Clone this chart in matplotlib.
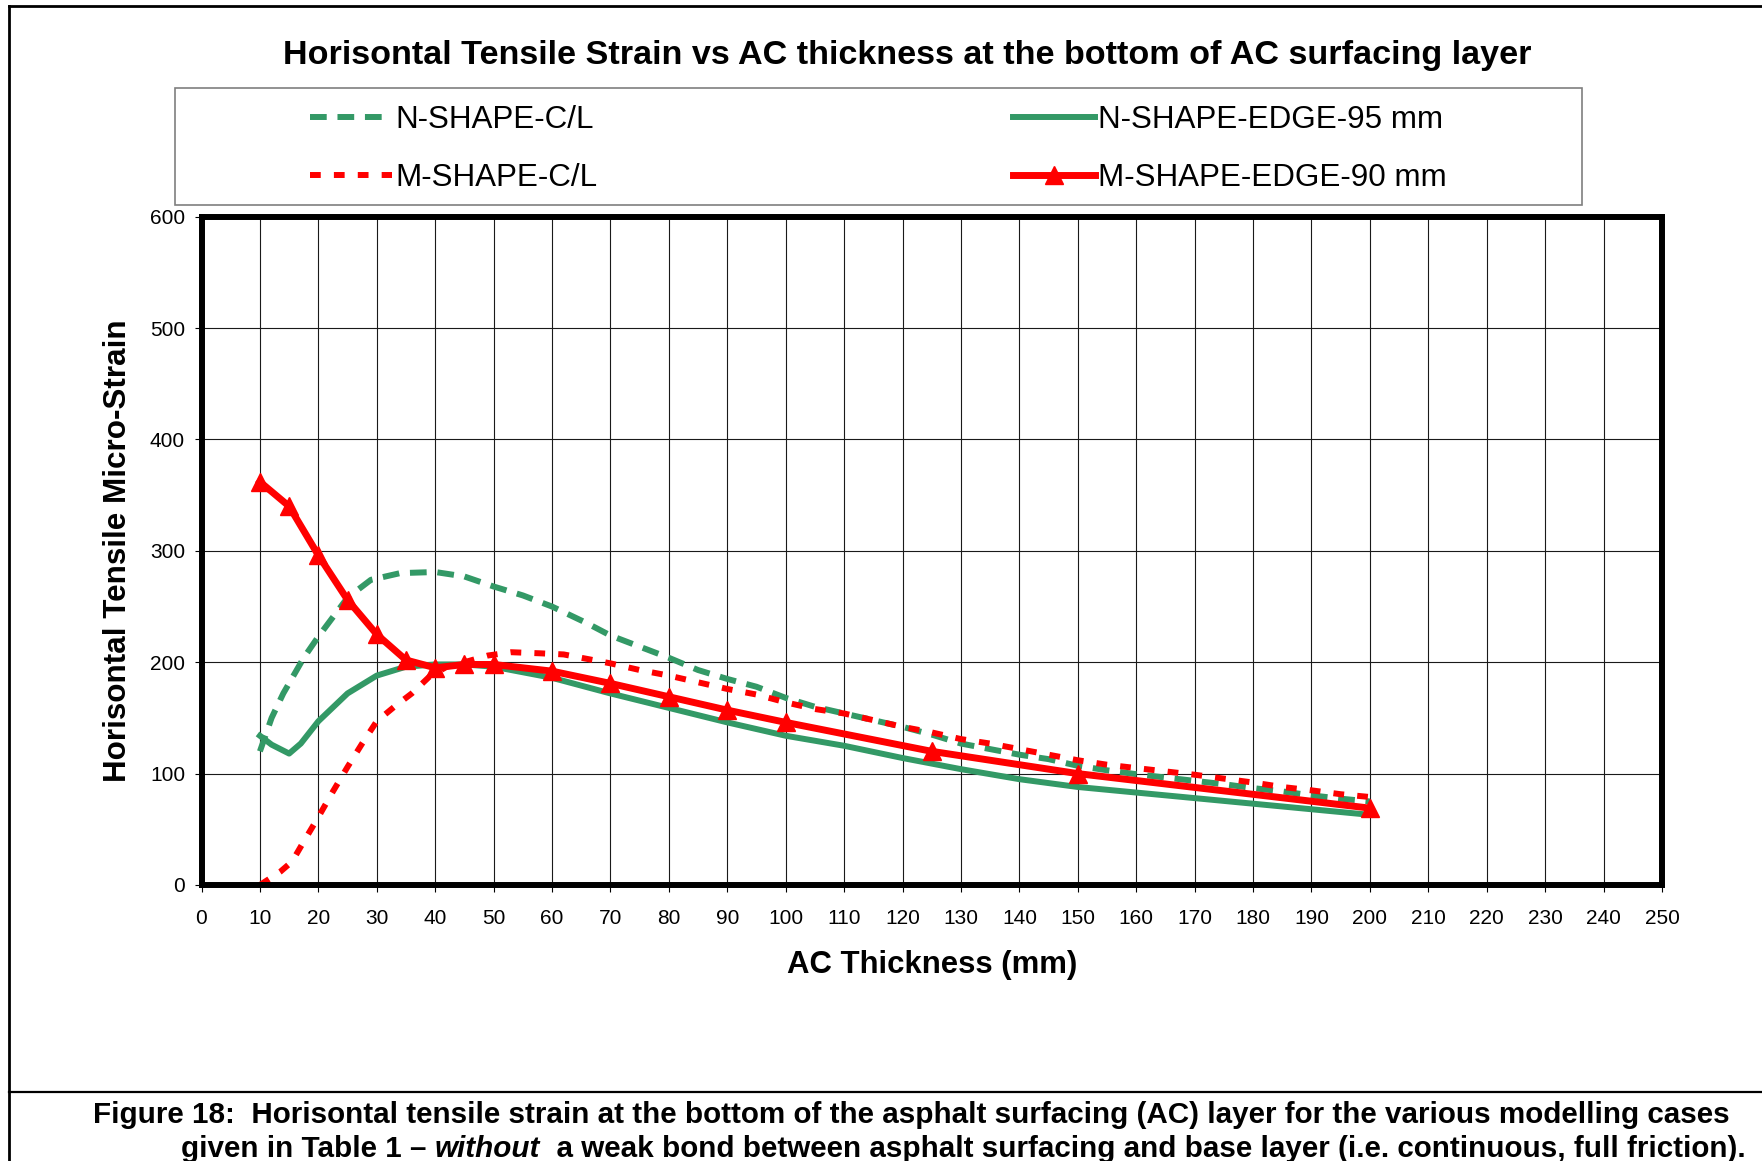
import matplotlib
matplotlib.use("Agg")
import matplotlib.pyplot as plt
from matplotlib.lines import Line2D
from matplotlib.patches import Rectangle

plt.rcParams['font.family'] = ['Liberation Sans', 'DejaVu Sans']

# data (AC thickness in mm, micro-strain)
n_cl_x = [10, 12, 14, 17.5, 20, 23, 25, 29, 34, 40, 45, 50, 55, 60, 66, 70, 75, 80, 85, 90,
          95, 100, 105, 110, 115, 120, 125, 130, 135, 140, 145, 150, 155, 160, 165, 170,
          175, 180, 185, 190, 195, 200]
n_cl_y = [120, 150, 172, 204, 223, 244, 258, 274, 280, 281, 277, 268, 260, 250, 235, 224,
          214, 204, 193, 185, 178, 168, 160, 154, 148, 142, 135, 127, 122, 117, 113, 107,
          103, 99.5, 96.5, 93.5, 90.5, 87, 84, 80.5, 77.5, 75]

n_edge_x = [10, 12, 15, 17, 20, 25, 30, 35, 40, 45, 50, 60, 70, 80, 90, 100, 110, 120,
            130, 140, 150, 160, 170, 180, 190, 200]
n_edge_y = [134, 126, 118, 127, 147, 172, 188, 196, 198, 198, 196, 186, 172, 159, 146, 134,
            125, 114, 104, 95, 88, 83, 78, 73, 68, 63]

m_cl_x = [10, 13.5, 15.5, 17.5, 20, 22.5, 25, 27.5, 30, 33, 36, 39, 42, 45, 49, 53, 58, 62,
          66, 70, 75, 80, 85, 90, 95, 100, 105, 110, 115, 120, 125, 130, 135, 140, 145, 150,
          155, 160, 165, 170, 175, 180, 185, 190, 195, 200]
m_cl_y = [0, 12, 21, 39, 61, 84, 106, 127, 147, 160, 172, 187, 196, 200, 206, 209, 208, 207,
          203, 199, 193, 188, 182, 176, 171, 164, 158, 154, 148, 142, 137, 131, 127, 122, 117,
          112, 108, 105, 102, 99, 95.5, 92, 88, 85, 81.5, 79]

m_edge_x = [10, 15, 20, 25, 30, 35, 40, 45, 50, 60, 70, 80, 90, 100, 125, 150, 200]
m_edge_y = [362, 340, 296, 256, 225, 202, 195, 198, 198, 192, 181, 169, 157, 146, 120, 100, 69]

labels = ["N-SHAPE-C/L", "N-SHAPE-EDGE-95 mm", "M-SHAPE-C/L", "M-SHAPE-EDGE-90 mm"]
x_ticks = list(range(0, 251, 10))
y_ticks = list(range(0, 601, 100))

green = '#339966'
red = '#ff0000'

W, H = 1762, 1161


def fx(px):
    return px / W


def fy(py):
    return 1 - py / H


fig = plt.figure(figsize=(W / 100, H / 100), dpi=100)
ax = fig.add_axes([fx(201.5), fy(885), fx(1662) - fx(201.5), fy(216.7) - fy(885)])

h1, = ax.plot(n_cl_x, n_cl_y, color=green, lw=4.3, ls=(0, (2.8, 1.8)), label=labels[0])
h2, = ax.plot(n_edge_x, n_edge_y, color=green, lw=4.3, label=labels[1])
h3, = ax.plot(m_cl_x, m_cl_y, color=red, lw=4.3, ls=(0, (1.8, 2.2)), label=labels[2])
h4, = ax.plot(m_edge_x, m_edge_y, color=red, lw=5, marker='^', ms=12.5, label=labels[3])

ax.set_xlim(0, 250)
ax.set_ylim(0, 600)
ax.set_xticks(x_ticks)
ax.set_yticks(y_ticks)
ax.grid(True, color='#1a1a1a', lw=0.8)
ax.set_axisbelow(True)
for sp in ax.spines.values():
    sp.set_linewidth(4.3)
ax.tick_params(axis='both', direction='out', length=5, width=0.8, labelsize=15)
ax.tick_params(axis='x', pad=12.5)
ax.tick_params(axis='y', pad=6.8)

# legend: frame drawn separately, entries placed inside it
fig.add_artist(Rectangle((fx(175), fy(205)), fx(1582) - fx(175), fy(88) - fy(205),
                         transform=fig.transFigure, fill=False, edgecolor='#7f7f7f', lw=1.2))
fig.legend([h1, h3, h2, h4], [labels[0], labels[2], labels[1], labels[3]], ncol=2,
           loc='upper left', bbox_to_anchor=(fx(310), fy(105)), frameon=False,
           fontsize=22.6, handlelength=2.6, handletextpad=0.11, columnspacing=13.25,
           labelspacing=0.89, borderpad=0, borderaxespad=0)

fig.text(fx(907), fy(64), "Horisontal Tensile Strain vs AC thickness at the bottom of AC surfacing layer",
         ha='center', va='baseline', fontsize=24.6, fontweight='bold')
fig.text(fx(118), fy(550.8), "Horisontal Tensile Micro-Strain", rotation=90,
         ha='center', va='center', fontsize=22.6, fontweight='bold')
fig.text(fx(932), fy(965), "AC Thickness (mm)", ha='center', va='center',
         fontsize=22.4, fontweight='bold')

# outer chart frame and caption separator
fig.add_artist(Line2D([fx(8.5), fx(8.5)], [fy(6), 0], transform=fig.transFigure, color='black', lw=2))
fig.add_artist(Line2D([fx(8.5), 1], [fy(6), fy(6)], transform=fig.transFigure, color='black', lw=2))
fig.add_artist(Line2D([fx(8.5), 1], [fy(1092), fy(1092)], transform=fig.transFigure, color='black', lw=1.6))

# caption
fig.text(fx(93), fy(1123),
         "Figure 18:  Horisontal tensile strain at the bottom of the asphalt surfacing (AC) layer for the various modelling cases",
         ha='left', va='baseline', fontsize=21.3, fontweight='bold')
renderer = fig.canvas.get_renderer()
x0 = fx(181)
for part, style in [("given in Table 1 \u2013 ", 'normal'), ("without", 'italic'),
                    ("  a weak bond between asphalt surfacing and base layer (i.e. continuous, full friction).", 'normal')]:
    t = fig.text(x0, fy(1157), part, ha='left', va='baseline', fontsize=21.3,
                 fontweight='bold', style=style)
    bb = t.get_window_extent(renderer=renderer)
    x0 = fig.transFigure.inverted().transform((bb.x1, bb.y0))[0]

fig.savefig("out.png", dpi=100)
